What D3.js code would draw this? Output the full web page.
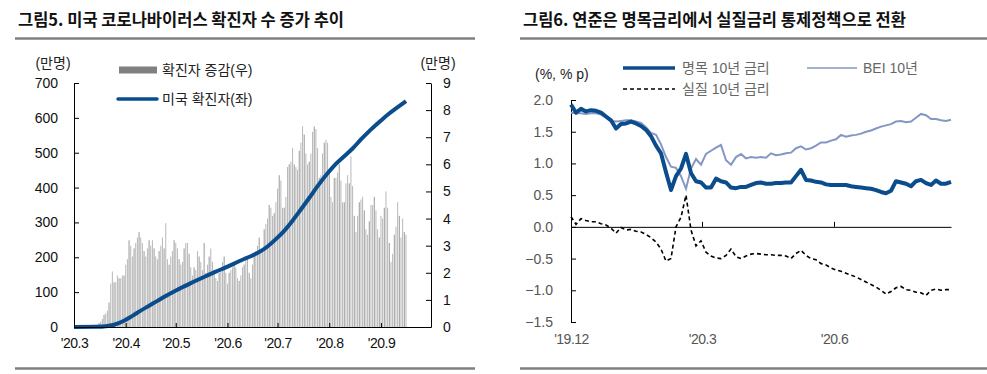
<!DOCTYPE html>
<html>
<head>
<meta charset="utf-8">
<title>US covid cases / US 10y rates</title>
<script src="https://d3js.org/d3.v7.min.js"></script>
<style>
  body { margin: 0; background: #fff; }
  text { font-family: "Liberation Sans", Arial, "Noto Sans CJK KR", sans-serif; }
  .title { font-family: "Noto Sans CJK KR", sans-serif; font-weight: 700; font-size: 16.5px; fill: #111; }
  .axis path, .axis line { stroke: #000; }
  .axis text { font-size: 14px; }
</style>
</head>
<body>
<svg id="chart" width="987" height="374"></svg>
<script>
// ---- left chart: US daily new cases (만명, right axis) from 2020-03-01, one row per week (Sun..Sat)
const newCases = [
  0, 0, 0, 0, 0, 0, 0,
  0, 0, 0, 0.05, 0.05, 0.08, 0.08,
  0.1, 0.15, 0.2, 0.3, 0.45, 0.5, 0.6,
  0.9, 1.6, 2.05, 1.65, 1.65, 1.9, 1.8,
  1.8, 1.9, 1.9, 2.3, 2.5, 3.2, 3.0,
  2.6, 2.9, 3.1, 3.3, 3.5, 3.3, 3.1,
  2.8, 2.6, 2.9, 3.2, 3.0, 3.2, 2.9,
  2.6, 2.5, 2.8, 3.0, 3.3, 2.9, 3.83,
  2.5, 2.3, 2.6, 2.8, 3.2, 3.1, 2.9,
  2.5, 2.3, 2.4, 2.9, 3.1, 3.1, 2.7,
  2.2, 1.9, 2.2, 2.1, 2.8, 2.6, 2.4,
  2.1, 3.1, 2.0, 2.3, 2.6, 2.9, 2.4,
  2.1, 1.8, 1.7, 2.0, 2.1, 2.4, 2.6,
  2.0, 1.6, 2.0, 2.1, 2.2, 2.4, 2.2,
  1.8, 1.7, 1.9, 2.2, 2.3, 2.6, 2.5,
  2.0, 1.8, 2.3, 2.7, 2.8, 3.0, 3.3,
  2.8, 2.9, 3.6, 3.8, 4.0, 4.5, 4.4,
  4.1, 4.2, 4.6, 5.1, 5.6, 5.4, 4.4,
  4.4, 4.8, 5.9, 6.0, 6.1, 6.6, 6.0,
  5.9, 5.8, 6.5, 6.8, 7.4, 7.1, 6.4,
  6.0, 6.1, 6.4, 7.2, 7.4, 7.3, 6.6,
  5.5, 5.6, 6.4, 6.8, 6.9, 6.8, 5.8,
  4.8, 4.6, 5.5, 5.5, 5.7, 6.0, 5.4,
  4.6, 4.6, 5.3, 5.6, 5.3, 6.3, 5.2,
  4.1, 3.5, 4.1, 4.6, 4.7, 4.8, 4.3,
  3.6, 3.4, 3.9, 4.5, 4.5, 4.8, 4.3,
  3.6, 3.3, 4.1, 4.0, 4.4, 5.0, 4.4,
  3.1, 2.4, 2.7, 3.4, 3.7, 4.6, 4.1,
  3.3, 4.0, 3.5, 3.4
];
const caseStart = "2020-03-01";

// cumulative cases (만명, left axis)
const cumDates = ["2020-03-01","2020-03-15","2020-03-20","2020-03-25","2020-03-31","2020-04-05","2020-04-10",
  "2020-04-15","2020-04-20","2020-04-25","2020-04-30","2020-05-05","2020-05-10","2020-05-15","2020-05-20",
  "2020-05-25","2020-05-31","2020-06-05","2020-06-10","2020-06-15","2020-06-20","2020-06-25","2020-06-30",
  "2020-07-05","2020-07-10","2020-07-15","2020-07-20","2020-07-25","2020-07-31","2020-08-05","2020-08-10",
  "2020-08-15","2020-08-20","2020-08-25","2020-08-31","2020-09-05","2020-09-10","2020-09-16"];
const cumCases = [0, 0.4, 1.9, 6.5, 18, 32, 47,
  61, 75, 89, 102, 114, 126, 137, 148,
  159, 171, 182, 193, 203, 215, 231, 252,
  276, 305, 337, 370, 404, 441, 468, 490,
  512, 538, 562, 588, 609, 627, 648];

const monthTicks = ["2020-03-01","2020-04-01","2020-05-01","2020-06-01","2020-07-01","2020-08-01","2020-09-01"];
const leftTicks = [0, 100, 200, 300, 400, 500, 600, 700];
const rightTicks = [0, 1, 2, 3, 4, 5, 6, 7, 8, 9];

// ---- right chart: US 10y rates, evenly spaced observations
const nominal10y = [
  1.93,1.80,1.86,1.82,1.84,1.83,1.80,1.74,1.68,1.55,
  1.62,1.63,1.66,1.63,1.59,1.53,1.43,1.28,1.16,0.86,
  0.58,0.80,0.92,1.15,0.85,0.72,0.70,0.62,0.62,0.76,
  0.72,0.70,0.62,0.61,0.63,0.63,0.66,0.69,0.70,0.68,
  0.68,0.69,0.69,0.70,0.70,0.80,0.90,0.74,0.73,0.71,
  0.70,0.67,0.66,0.66,0.66,0.66,0.64,0.63,0.62,0.61,
  0.60,0.58,0.55,0.53,0.57,0.72,0.70,0.68,0.64,0.72,
  0.74,0.69,0.66,0.73,0.68,0.68,0.71
];
const bei10y = [
  1.80,1.79,1.79,1.78,1.79,1.79,1.77,1.72,1.67,1.66,
  1.67,1.68,1.68,1.66,1.64,1.57,1.48,1.45,1.30,1.10,
  0.95,0.93,0.80,0.60,0.92,1.07,0.98,1.15,1.20,1.25,
  1.29,1.05,0.98,1.10,1.15,1.08,1.10,1.09,1.10,1.09,
  1.16,1.13,1.14,1.16,1.17,1.24,1.27,1.22,1.24,1.28,
  1.33,1.33,1.36,1.38,1.45,1.42,1.44,1.45,1.47,1.50,
  1.52,1.55,1.58,1.60,1.62,1.66,1.67,1.65,1.66,1.72,
  1.78,1.76,1.70,1.70,1.68,1.67,1.69
];
const real10y = [
  0.16,0.04,0.13,0.10,0.08,0.08,0.05,0.03,-0.02,-0.10,
  -0.01,-0.05,-0.04,-0.07,-0.08,-0.12,-0.17,-0.24,-0.35,-0.54,
  -0.50,0.00,0.15,0.50,-0.05,-0.30,-0.22,-0.40,-0.46,-0.49,
  -0.50,-0.45,-0.35,-0.47,-0.50,-0.46,-0.43,-0.42,-0.43,-0.44,
  -0.44,-0.45,-0.45,-0.46,-0.50,-0.42,-0.37,-0.45,-0.50,-0.52,
  -0.58,-0.60,-0.65,-0.68,-0.70,-0.73,-0.76,-0.79,-0.83,-0.87,
  -0.91,-0.95,-1.00,-1.06,-1.02,-0.96,-0.94,-0.99,-1.00,-1.03,
  -1.04,-1.08,-1.00,-0.98,-1.00,-0.99,-0.99
];
const rateTickPos = [0, 26.2, 52.6];
const rateTickLabels = ["'19.12", "'20.3", "'20.6"];
const rateYTicks = [-1.5, -1.0, -0.5, 0.0, 0.5, 1.0, 1.5, 2.0];

const parse = d3.timeParse("%Y-%m-%d");
const svg = d3.select("#chart");

// ===== titles and rules
svg.append("text").attr("class", "title").attr("x", 18).attr("y", 26)
  .text("그림5. 미국 코로나바이러스 확진자 수 증가 추이");
svg.append("text").attr("class", "title").attr("x", 523).attr("y", 26)
  .text("그림6. 연준은 명목금리에서 실질금리 통제정책으로 전환");
[[15, 475], [520, 987]].forEach(([a, b]) => {
  svg.append("line").attr("x1", a).attr("x2", b).attr("y1", 38.5).attr("y2", 38.5)
    .attr("stroke", "#808080").attr("stroke-width", 2.5);
  svg.append("line").attr("x1", a).attr("x2", b).attr("y1", 368.5).attr("y2", 368.5)
    .attr("stroke", "#808080").attr("stroke-width", 2.5);
});

// ===== left chart
const xL = d3.scaleTime().domain([parse("2020-03-01"), parse("2020-10-01")]).range([74, 431]);
const yL = d3.scaleLinear().domain([0, 700]).range([327, 83]);
const yR = d3.scaleLinear().domain([0, 9]).range([327, 83]);
const day0 = parse(caseStart);

svg.append("g")
  .selectAll("rect")
  .data(newCases)
  .join("rect")
  .attr("x", (d, i) => xL(d3.timeDay.offset(day0, i)) - 0.5)
  .attr("width", 1)
  .attr("y", d => yR(d))
  .attr("height", d => yR(0) - yR(d))
  .attr("fill", (d, i) => i % 3 === 0 ? "#999" : "#b8b8b8");

const cum = cumDates.map((d, i) => ({ date: parse(d), v: cumCases[i] }));
svg.append("path")
  .datum(cum)
  .attr("fill", "none")
  .attr("stroke", "#0b4d8c")
  .attr("stroke-width", 4)
  .attr("stroke-linejoin", "round")
  .attr("d", d3.line().x(d => xL(d.date)).y(d => yL(d.v)).curve(d3.curveMonotoneX));

svg.append("g").attr("class", "axis").attr("transform", "translate(74,0)")
  .call(d3.axisLeft(yL).tickValues(leftTicks).tickSize(-5).tickSizeOuter(0).tickPadding(16))
  .call(g => g.selectAll("text").attr("fill", "#111"));
svg.append("g").attr("class", "axis").attr("transform", "translate(431,0)")
  .call(d3.axisRight(yR).tickValues(rightTicks).tickSize(-5).tickSizeOuter(0).tickPadding(12))
  .call(g => g.selectAll("text").attr("fill", "#111"));
svg.append("g").attr("class", "axis").attr("transform", "translate(0,327)")
  .call(d3.axisBottom(xL).tickValues(monthTicks.map(parse)).tickSize(-4).tickSizeOuter(0).tickPadding(11)
    .tickFormat(d => "'" + d3.timeFormat("%y")(d) + "." + (d.getMonth() + 1)))
  .call(g => g.selectAll("text").attr("fill", "#111").attr("letter-spacing", "-0.5px"));

svg.append("text").attr("x", 53).attr("y", 68).attr("text-anchor", "middle")
  .style("font-size", "14px").attr("fill", "#222").text("(만명)");
svg.append("text").attr("x", 438).attr("y", 68).attr("text-anchor", "middle")
  .style("font-size", "14px").attr("fill", "#222").text("(만명)");

// legend
svg.append("rect").attr("x", 119).attr("y", 66.5).attr("width", 38).attr("height", 7).attr("fill", "#808080");
svg.append("text").attr("x", 162).attr("y", 75).style("font-size", "14px").attr("fill", "#222").text("확진자 증감(우)");
svg.append("line").attr("x1", 118).attr("x2", 157).attr("y1", 99).attr("y2", 99)
  .attr("stroke", "#0b4d8c").attr("stroke-width", 3.5).attr("stroke-linecap", "round");
svg.append("text").attr("x", 162).attr("y", 104).style("font-size", "14px").attr("fill", "#222").text("미국 확진자(좌)");

// ===== right chart
const xR = d3.scaleLinear().domain([0, nominal10y.length - 1]).range([571, 951]);
const yN = d3.scaleLinear().domain([-1.5, 2.0]).range([322, 100]);
const rline = d3.line().x((d, i) => xR(i)).y(d => yN(d));

svg.append("g").attr("class", "axis").attr("transform", "translate(571,0)")
  .call(d3.axisLeft(yN).tickValues(rateYTicks).tickSize(-5).tickSizeOuter(0).tickPadding(18)
    .tickFormat(d3.format(".1f")))
  .call(g => g.selectAll("text").attr("fill", "#555"));
svg.append("g").attr("class", "axis").attr("transform", "translate(0," + yN(0) + ")")
  .call(d3.axisBottom(xR).tickValues(rateTickPos).tickSize(-5).tickSizeOuter(0).tickFormat(""));
svg.append("g").attr("transform", "translate(0,322)")
  .call(d3.axisBottom(xR).tickValues(rateTickPos).tickSize(0).tickPadding(12)
    .tickFormat((d, i) => rateTickLabels[i]))
  .call(g => g.select(".domain").remove())
  .call(g => g.selectAll("text").attr("fill", "#555").style("font-size", "14px").attr("letter-spacing", "-0.5px"));

svg.append("path").datum(bei10y).attr("fill", "none")
  .attr("stroke", "#8497c4").attr("stroke-width", 2).attr("d", rline);
svg.append("path").datum(nominal10y).attr("fill", "none")
  .attr("stroke", "#0b4d8c").attr("stroke-width", 4).attr("stroke-linejoin", "round").attr("d", rline);
svg.append("path").datum(real10y).attr("fill", "none")
  .attr("stroke", "#000").attr("stroke-width", 1.6).attr("stroke-dasharray", "4,3").attr("d", rline);

svg.append("text").attr("x", 535).attr("y", 79).style("font-size", "14px").attr("fill", "#222").text("(%, % p)");

// legend
svg.append("line").attr("x1", 623).attr("x2", 675).attr("y1", 68).attr("y2", 68)
  .attr("stroke", "#0b4d8c").attr("stroke-width", 3.5);
svg.append("text").attr("x", 682).attr("y", 73).style("font-size", "14px").attr("fill", "#666").text("명목 10년 금리");
svg.append("line").attr("x1", 807).attr("x2", 857).attr("y1", 68).attr("y2", 68)
  .attr("stroke", "#8497c4").attr("stroke-width", 1.5);
svg.append("text").attr("x", 863).attr("y", 73).style("font-size", "14px").attr("fill", "#666").text("BEI 10년");
svg.append("line").attr("x1", 623).attr("x2", 675).attr("y1", 89).attr("y2", 89)
  .attr("stroke", "#000").attr("stroke-width", 1.6).attr("stroke-dasharray", "4,3");
svg.append("text").attr("x", 682).attr("y", 94).style("font-size", "14px").attr("fill", "#666").text("실질 10년 금리");
</script>
</body>
</html>
